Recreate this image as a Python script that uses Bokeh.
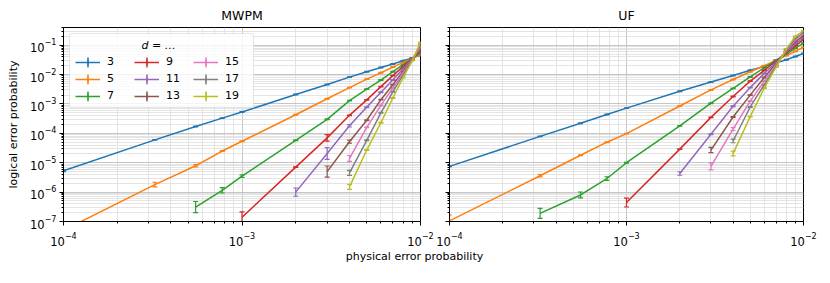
import math
from bokeh.plotting import figure
from bokeh.layouts import column, row
from bokeh.core.properties import value
from bokeh.models import (FixedTicker, LogTickFormatter, CustomJSTickFormatter, Legend,
                          LegendItem, Whisker, TeeHead, ColumnDataSource, Range1d)
from bokeh.embed import file_html
from bokeh.resources import INLINE

# physical error probabilities
P = [1e-4, 3.25e-4, 5.5e-4, 7.75e-4, 1e-3, 2e-3, 3e-3, 4e-3, 5e-3, 6e-3, 7e-3, 8e-3, 9e-3, 1e-2]
DISTANCES = [3, 5, 7, 9, 11, 13, 15, 17, 19]
COLORS = ["#1f77b4", "#ff7f0e", "#2ca02c", "#d62728", "#9467bd",
          "#8c564b", "#e377c2", "#7f7f7f", "#bcbd22"]

# MWPM logical error probabilities (None = not measured)
mwpm_d3 = [5.3e-6, 6.0e-5, 1.7e-4, 3.3e-4, 5.3e-4, 2.1e-3, 4.6e-3, 8.2e-3, 1.25e-2, 1.75e-2, 2.3e-2, 2.95e-2, 3.7e-2, 4.5e-2]
mwpm_d5 = [5e-8, 1.8e-6, 7.9e-6, 2.5e-5, 5.4e-5, 4.3e-4, 1.5e-3, 3.6e-3, 7.0e-3, 1.15e-2, 1.8e-2, 2.6e-2, 3.6e-2, 4.8e-2]
mwpm_d7 = [None, None, 3.1e-7, 1.15e-6, 3.5e-6, 5.8e-5, 3.0e-4, 1.3e-3, 3.2e-3, 6.5e-3, 1.25e-2, 2.2e-2, 3.6e-2, 5.5e-2]
mwpm_d9 = [None, None, None, None, 1.4e-7, 7.1e-6, 7.0e-5, 4.1e-4, 1.38e-3, 3.9e-3, 9.2e-3, 1.9e-2, 3.6e-2, 6.2e-2]
mwpm_d11 = [None, None, None, None, None, 1.0e-6, 2.05e-5, 1.8e-4, 7.8e-4, 2.5e-3, 6.5e-3, 1.6e-2, 3.5e-2, 7.0e-2]
mwpm_d13 = [None, None, None, None, None, None, 5.0e-6, 5.2e-5, 2.8e-4, 1.4e-3, 4.5e-3, 1.3e-2, 3.4e-2, 8.0e-2]
mwpm_d15 = [None, None, None, None, None, None, None, 1.4e-5, 1.6e-4, 8.9e-4, 3.5e-3, 1.15e-2, 3.3e-2, 9.0e-2]
mwpm_d17 = [None, None, None, None, None, None, None, 4.5e-6, 5.8e-5, 5.0e-4, 2.6e-3, 1.0e-2, 3.2e-2, 0.105]
mwpm_d19 = [None, None, None, None, None, None, None, 1.5e-6, 2.7e-5, 2.3e-4, 1.6e-3, 8.0e-3, 3.0e-2, 0.125]

# UF logical error probabilities
uf_d3 = [7.5e-6, 7.9e-5, 2.2e-4, 4.4e-4, 7.2e-4, 2.7e-3, 5.6e-3, 9.3e-3, 1.4e-2, 1.9e-2, 2.5e-2, 3.2e-2, 4.1e-2, 5.2e-2]
uf_d5 = [1.05e-7, 3.6e-6, 1.8e-5, 5.0e-5, 9.8e-5, 8.5e-4, 3.0e-3, 6.8e-3, 1.25e-2, 2.0e-2, 3.0e-2, 4.4e-2, 6.2e-2, 8.4e-2]
uf_d7 = [None, 1.9e-7, 8.0e-7, 2.9e-6, 1.0e-5, 1.8e-4, 1.06e-3, 3.4e-3, 8.3e-3, 1.7e-2, 3.1e-2, 5.0e-2, 7.9e-2, 0.117]
uf_d9 = [None, None, None, None, 4.4e-7, 2.9e-5, 3.5e-4, 1.8e-3, 6.0e-3, 1.4e-2, 2.9e-2, 5.5e-2, 9.5e-2, 0.155]
uf_d11 = [None, None, None, None, None, 4.3e-6, 9.3e-5, 8.4e-4, 3.6e-3, 1.1e-2, 2.6e-2, 5.8e-2, 0.11, 0.18]
uf_d13 = [None, None, None, None, None, None, 2.7e-5, 3.6e-4, 2.0e-3, 8.0e-3, 2.4e-2, 6.2e-2, 0.13, 0.21]
uf_d15 = [None, None, None, None, None, None, 7.5e-6, 1.4e-4, 1.25e-3, 6.0e-3, 2.2e-2, 6.6e-2, 0.15, 0.24]
uf_d17 = [None, None, None, None, None, None, None, 5.5e-5, 7.9e-4, 4.5e-3, 2.0e-2, 7.0e-2, 0.17, 0.27]
uf_d19 = [None, None, None, None, None, None, None, 2.05e-5, 3.7e-4, 3.5e-3, 1.8e-2, 7.5e-2, 0.2, 0.31]

# error-bar half widths in decades (default for all others)
ERR_DEFAULT = 0.012
mwpm_err = {(3, 1e-4): 0.03, (5, 3.25e-4): 0.08, (5, 5.5e-4): 0.04, (7, 5.5e-4): 0.19,
            (7, 7.75e-4): 0.09, (7, 1e-3): 0.04, (9, 1e-3): 0.18, (9, 3e-3): 0.11,
            (11, 2e-3): 0.14, (11, 3e-3): 0.2, (11, 4e-3): 0.04, (13, 3e-3): 0.19,
            (13, 4e-3): 0.05, (15, 4e-3): 0.1, (17, 4e-3): 0.085, (19, 4e-3): 0.085}
uf_err = {(5, 1e-4): 0.2, (5, 3.25e-4): 0.04, (7, 3.25e-4): 0.17, (7, 5.5e-4): 0.1,
          (7, 7.75e-4): 0.06, (9, 1e-3): 0.15, (11, 2e-3): 0.06, (13, 3e-3): 0.09,
          (15, 3e-3): 0.12, (15, 4e-3): 0.05, (17, 4e-3): 0.06, (19, 4e-3): 0.08}

MWPM = dict(zip(DISTANCES, [mwpm_d3, mwpm_d5, mwpm_d7, mwpm_d9, mwpm_d11,
                            mwpm_d13, mwpm_d15, mwpm_d17, mwpm_d19]))
UF = dict(zip(DISTANCES, [uf_d3, uf_d5, uf_d7, uf_d9, uf_d11,
                          uf_d13, uf_d15, uf_d17, uf_d19]))

FONT = "DejaVu Sans"
X_MAJOR = [10.0 ** k for k in range(-4, -1)]
X_MINOR = [m * 10.0 ** k for k in range(-5, -1) for m in range(2, 10)]
Y_MAJOR = [10.0 ** k for k in range(-7, 1)]
Y_MINOR = [m * 10.0 ** k for k in range(-8, 1) for m in range(2, 10)]
NBSP = "\u00a0"


def make_panel(title, series, errs, fwidth, left, right, first):
    p = figure(frame_width=fwidth, frame_height=194, x_axis_type="log", y_axis_type="log",
               x_range=Range1d(1e-4, 1e-2), y_range=Range1d(1e-7, 0.4),
               output_backend="svg", toolbar_location=None,
               min_border_left=left, min_border_right=right,
               min_border_top=22, min_border_bottom=22)
    p.title.text = title
    p.title.align = "center"
    p.title.text_font = FONT
    p.title.text_font_size = "12.5px"
    p.title.text_font_style = "normal"
    p.title.text_color = "black"
    p.outline_line_color = "black"
    p.outline_line_alpha = 1.0
    p.outline_line_width = 1

    p.xaxis.ticker = FixedTicker(ticks=X_MAJOR, minor_ticks=X_MINOR)
    p.yaxis.ticker = FixedTicker(ticks=Y_MAJOR, minor_ticks=Y_MINOR)
    p.xaxis.formatter = LogTickFormatter()
    if first:
        p.yaxis.formatter = LogTickFormatter()
        p.yaxis.axis_label = "logical error probability"
        p.yaxis.axis_label_text_font = FONT
        p.yaxis.axis_label_text_font_size = "11px"
        p.yaxis.axis_label_text_font_style = "normal"
        p.yaxis.axis_label_text_color = "black"
        p.yaxis.axis_label_standoff = 7
    else:
        p.yaxis.formatter = CustomJSTickFormatter(code="return ''")
    for ax in (p.xaxis, p.yaxis):
        ax.axis_line_color = "black"
        ax.major_tick_line_color = "black"
        ax.minor_tick_line_color = "black"
        ax.major_tick_in = 0
        ax.major_tick_out = 4
        ax.minor_tick_in = 0
        ax.minor_tick_out = 2
        ax.major_label_text_font = FONT
        ax.major_label_text_font_size = "11.5px"
        ax.major_label_text_color = "black"
    p.xaxis.major_label_standoff = 6
    p.yaxis.major_label_standoff = 3
    for g in (p.xgrid, p.ygrid):
        g.grid_line_color = "#b8b8b8"
        g.grid_line_width = 0.8
        g.minor_grid_line_color = "#dddddd"
        g.minor_grid_line_width = 0.8

    items = []
    for d, c in zip(DISTANCES, COLORS):
        vals = series[d]
        xs = [x for x, v in zip(P, vals) if v is not None]
        ys = [v for v in vals if v is not None]
        hs = [errs.get((d, x), ERR_DEFAULT) for x in xs]
        lo = [y / 10 ** h for y, h in zip(ys, hs)]
        hi = [y * 10 ** h for y, h in zip(ys, hs)]
        src = ColumnDataSource(dict(x=xs, y=ys, lo=lo, hi=hi))
        lr = p.line("x", "y", source=src, line_color=c, line_width=1.5)
        w = Whisker(source=src, base="x", upper="hi", lower="lo", line_color=c,
                    line_width=1.2,
                    upper_head=TeeHead(size=5, line_color=c, line_width=1.2),
                    lower_head=TeeHead(size=5, line_color=c, line_width=1.2))
        p.add_layout(w)
        if first:
            # legend-only error-bar symbol: a thin vertical ellipse outside the visible range
            bar = p.ellipse(x=[1e-9], y=[1e-12], width=0.6, height=12,
                            width_units="screen", height_units="screen",
                            line_color=c, fill_color=c, line_width=1.3)
            items.append(LegendItem(label=str(d), renderers=[lr, bar]))
    if first:
        legend = Legend(items=items, location="top_left",
                        title=NBSP * 19 + "d = …",
                        orientation="vertical", nrows=3,
                        glyph_width=25, glyph_height=12, label_height=12,
                        label_width=23, label_standoff=7, spacing=4,
                        padding=5, margin=6,
                        label_text_font=FONT, label_text_font_size="11px",
                        label_text_color="black",
                        title_text_font=FONT, title_text_font_size="11px",
                        title_text_font_style="italic", title_text_color="black",
                        title_standoff=3,
                        border_line_color="#cccccc", border_line_width=1,
                        background_fill_alpha=0.8)
        try:
            legend.border_radius = 3
        except Exception:
            pass
        p.add_layout(legend)
    return p


p1 = make_panel("MWPM", MWPM, mwpm_err, 357, 63, 15, True)
p2 = make_panel("UF", UF, uf_err, 354, 14, 14, False)

p3 = figure(width=817, height=16, x_range=Range1d(0, 817), y_range=Range1d(0, 16),
            output_backend="svg", toolbar_location=None, min_border=0)
p3.axis.visible = False
p3.grid.visible = False
p3.outline_line_color = None
p3.text(x=[414], y=[8], text=["physical error probability"], text_align="center",
        text_baseline="middle", text_font_size="11px", text_color="black",
        text_font=value(FONT))

layout = column(row(p1, p2), p3)
open("out.html", "w").write(file_html(layout, INLINE))
